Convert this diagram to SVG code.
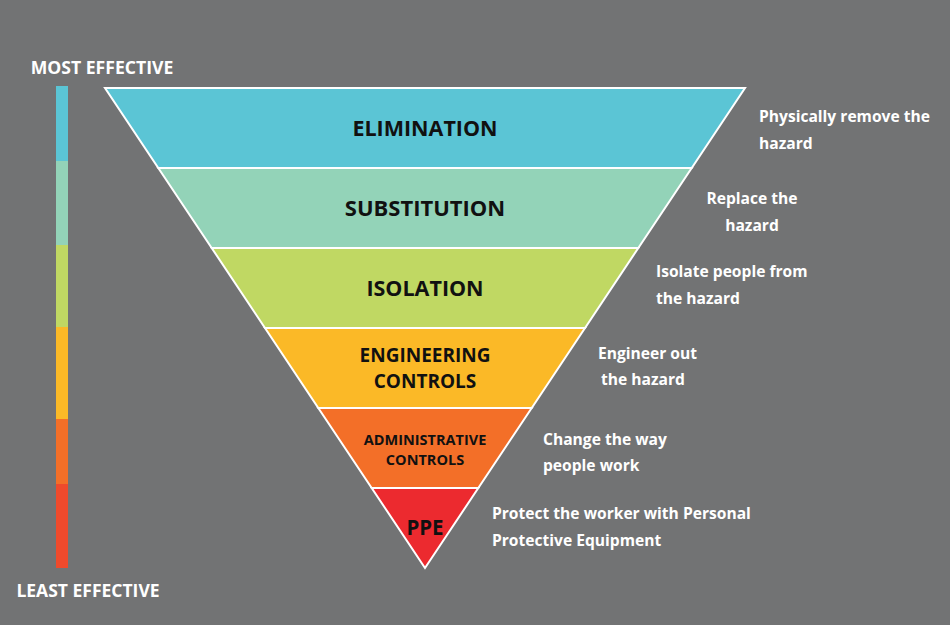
<svg xmlns="http://www.w3.org/2000/svg" width="950" height="625" viewBox="0 0 950 625">
<style>
.lbl{font-family:"Open Sans","Liberation Sans",sans-serif;font-weight:bold;fill:#111;text-anchor:middle}
.side{font-family:"Open Sans","Liberation Sans",sans-serif;font-weight:bold;fill:#fff;font-size:15.6px}
.band{stroke:#fff;stroke-width:2;stroke-linejoin:miter}
</style>
<rect width="950" height="625" fill="#727374"/>
<g id="scale">
<rect x="56" y="86" width="12" height="75" fill="#5bc5d5"/>
<rect x="56" y="161" width="12" height="84" fill="#93d3b8"/>
<rect x="56" y="245" width="12" height="82" fill="#c0d863"/>
<rect x="56" y="327" width="12" height="92" fill="#fbb927"/>
<rect x="56" y="419" width="12" height="65" fill="#f36f28"/>
<rect x="56" y="484" width="12" height="84" fill="#ef4a2c"/>
<text x="102" y="74" class="side" style="font-size:17.6px" text-anchor="middle">MOST EFFECTIVE</text>
<text x="88" y="597" class="side" style="font-size:17.5px" text-anchor="middle">LEAST EFFECTIVE</text>
</g>
<g id="elimination">
<polygon class="band" points="105,88 745,88 691.7,168 158.3,168" fill="#5bc5d5"/>
<text class="lbl" x="425" y="136" font-size="21.5">ELIMINATION</text>
<text class="side" x="759" y="122">Physically remove the</text>
<text class="side" x="759" y="149">hazard</text>
</g>
<g id="substitution">
<polygon class="band" points="158.3,168 691.7,168 638.3,248 211.7,248" fill="#93d3b8"/>
<text class="lbl" x="425" y="216" font-size="22">SUBSTITUTION</text>
<text class="side" x="752" y="204" text-anchor="middle">Replace the</text>
<text class="side" x="752" y="231" text-anchor="middle">hazard</text>
</g>
<g id="isolation">
<polygon class="band" points="211.7,248 638.3,248 585,328 265,328" fill="#c0d863"/>
<text class="lbl" x="425" y="296" font-size="21.5">ISOLATION</text>
<text class="side" x="656" y="277">Isolate people from</text>
<text class="side" x="656" y="304">the hazard</text>
</g>
<g id="engineering">
<polygon class="band" points="265,328 585,328 531.7,408 318.3,408" fill="#fbb927"/>
<text class="lbl" x="425" y="362" font-size="19">ENGINEERING</text>
<text class="lbl" x="425" y="388" font-size="19">CONTROLS</text>
<text class="side" x="598" y="359">Engineer out</text>
<text class="side" x="601" y="385">the hazard</text>
</g>
<g id="administrative">
<polygon class="band" points="318.3,408 531.7,408 478.3,488 371.7,488" fill="#f36f28"/>
<text class="lbl" x="425" y="445" font-size="14.5">ADMINISTRATIVE</text>
<text class="lbl" x="425" y="465" font-size="14.5">CONTROLS</text>
<text class="side" x="543" y="445">Change the way</text>
<text class="side" x="543" y="471">people work</text>
</g>
<g id="ppe">
<polygon class="band" points="371.7,488 478.3,488 425,568" fill="#ec2a2f"/>
<text class="lbl" x="425" y="535" font-size="20.5">PPE</text>
<text class="side" x="492" y="519">Protect the worker with Personal</text>
<text class="side" x="492" y="546">Protective Equipment</text>
</g>
</svg>
